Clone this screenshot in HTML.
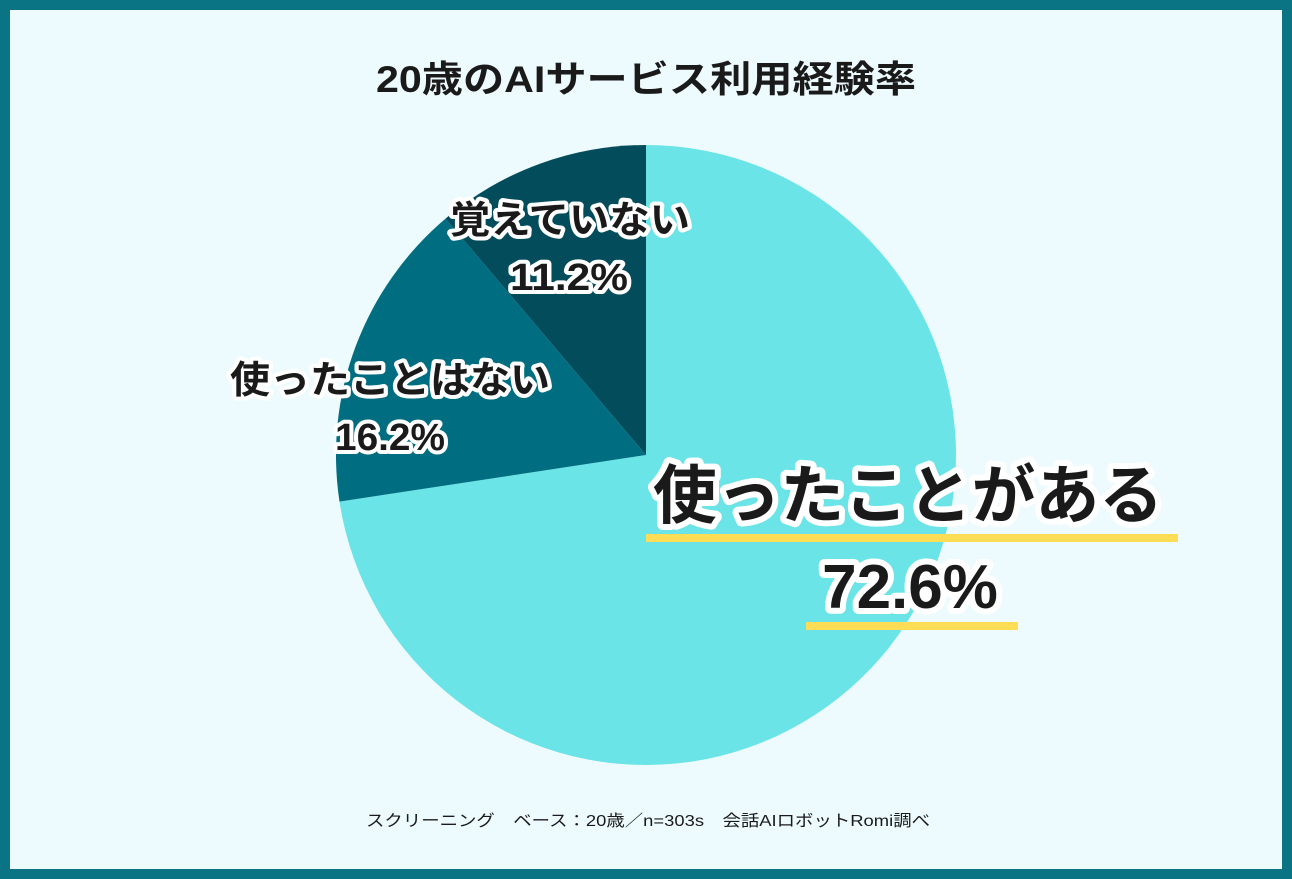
<!DOCTYPE html>
<html><head><meta charset="utf-8"><style>
html,body{margin:0;padding:0}
body{width:1292px;height:879px;overflow:hidden;background:#0a7384}
.frame{position:absolute;left:10px;top:10px;width:1272px;height:859px;background:#edfbfe}
svg{position:absolute;left:0;top:0}
text{font-family:"Liberation Sans","Noto Sans CJK JP",sans-serif}
.lbl{paint-order:stroke;stroke:#fff;stroke-linejoin:round;fill:#1a1a1a;font-weight:bold}
</style></head><body>
<div class="frame"></div>
<svg width="1292" height="879" viewBox="0 0 1292 879">
<path d="M646,455 L646,145 A310,310 0 1 1 339.5,501.6 Z" fill="#6ae4e7"/>
<path d="M646,455 L339.5,501.6 A310,310 0 0 1 445.5,218.6 Z" fill="#006e80"/>
<path d="M646,455 L445.5,218.6 A310,310 0 0 1 646,145 Z" fill="#034c5c"/>
<text x="646" y="92" text-anchor="middle" font-size="37" font-weight="bold" fill="#1a1a1a" textLength="540" lengthAdjust="spacingAndGlyphs">20歳のAIサービス利用経験率</text>
<text class="lbl" x="570" y="233" text-anchor="middle" font-size="38" stroke-width="8" textLength="240" lengthAdjust="spacingAndGlyphs">覚えていない</text>
<text class="lbl" x="569" y="290" text-anchor="middle" font-size="38" stroke-width="8" textLength="118" lengthAdjust="spacingAndGlyphs">11.2%</text>
<text class="lbl" x="390" y="393" text-anchor="middle" font-size="38" stroke-width="8" textLength="320" lengthAdjust="spacingAndGlyphs">使ったことはない</text>
<text class="lbl" x="390" y="450" text-anchor="middle" font-size="38" stroke-width="8" textLength="110" lengthAdjust="spacingAndGlyphs">16.2%</text>
<rect x="646" y="534" width="532" height="8" fill="#fddd55"/>
<rect x="806" y="622" width="212" height="8" fill="#fddd55"/>
<text class="lbl" x="908" y="518" text-anchor="middle" font-size="64" stroke-width="12" textLength="510" lengthAdjust="spacingAndGlyphs">使ったことがある</text>
<text class="lbl" x="910" y="608" text-anchor="middle" font-size="62" stroke-width="12">72.6%</text>
<text x="648" y="826" text-anchor="middle" font-size="16" fill="#1a1a1a" textLength="564" lengthAdjust="spacingAndGlyphs">スクリーニング　ベース：20歳／n=303s　会話AIロボットRomi調べ</text>
</svg>
</body></html>
